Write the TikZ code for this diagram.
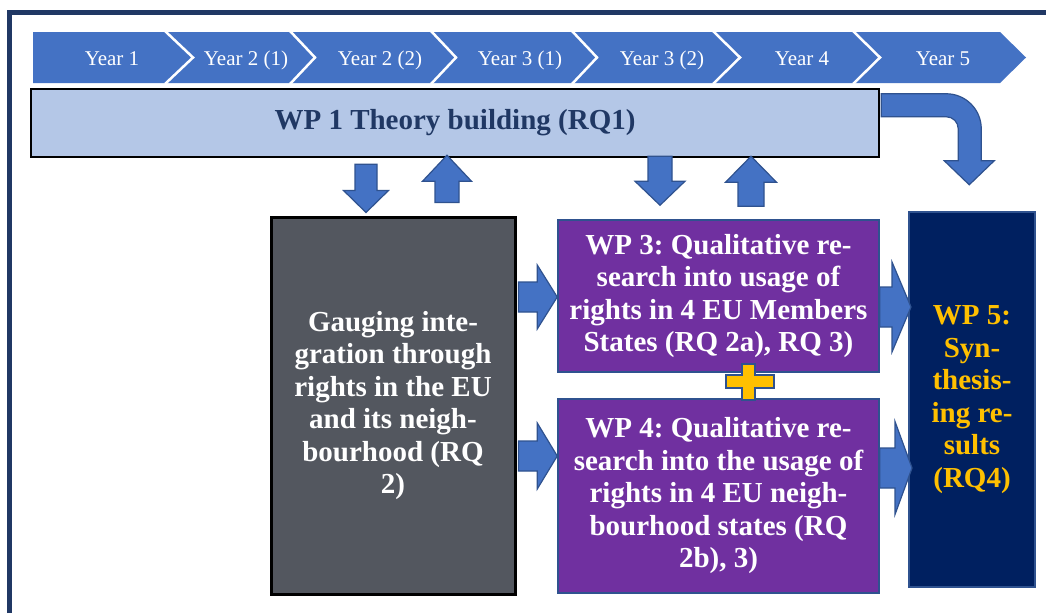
\documentclass[tikz,border=0pt]{standalone}
\usepackage{fontspec}
\setmainfont{Liberation Serif}
\usetikzlibrary{calc}
\frenchspacing
\definecolor{chev}{HTML}{4472C4}
\definecolor{arrowline}{HTML}{2F528F}
\definecolor{frameblue}{HTML}{203864}
\definecolor{wpone}{HTML}{B4C7E7}
\definecolor{grayfill}{HTML}{53575F}
\definecolor{purplefill}{HTML}{7030A0}
\definecolor{navyfill}{HTML}{002060}
\definecolor{gold}{HTML}{FFC000}
\newcommand\blockarrow[5]{% #1 from, #2 to, #3 half shaft, #4 half head, #5 head length
  \coordinate (bah) at ($(#2)!#5!(#1)$);
  \draw[barrow] ($(#1)!#3!90:(#2)$) -- ($(bah)!#3!90:(#2)$) -- ($(bah)!#4!90:(#2)$)
    -- (#2) -- ($(bah)!#4!-90:(#2)$) -- ($(bah)!#3!-90:(#2)$) -- ($(#1)!#3!-90:(#2)$) -- cycle;
}
\tikzset{
  box/.style={rectangle, inner sep=0pt, align=center, font=\fontsize{29}{32.5}\selectfont\bfseries\frenchspacing},
  yearlbl/.style={text=white, font=\fontsize{21}{24}\selectfont, inner sep=0pt, anchor=base},
  barrow/.style={fill=chev, draw=arrowline, line width=1.2pt, line join=miter},
  chevron/.style={fill=chev},
  chevgap/.style={draw=white, line width=2.5pt, line join=miter},
}
\begin{document}
\begin{tikzpicture}[x=1pt,y=-1pt]
\useasboundingbox (0,0) rectangle (1046,613);
\fill[white] (0,0) rectangle (1046,613);
% outer frame
\draw[frameblue, line width=4.5pt, line join=miter] (9.5,613) -- (9.5,12.5) -- (1046,12.5);

% chevrons
\fill[chevron] (33,32) -- (165,32) -- (193,57.5) -- (165,83) -- (33,83) -- cycle;
\fill[chevron] (165,32) -- (290,32) -- (315,57.5) -- (290,83) -- (165,83) -- (193,57.5) -- cycle;
\fill[chevron] (290,32) -- (431,32) -- (456,57.5) -- (431,83) -- (290,83) -- (315,57.5) -- cycle;
\fill[chevron] (431,32) -- (572,32) -- (597,57.5) -- (572,83) -- (431,83) -- (456,57.5) -- cycle;
\fill[chevron] (572,32) -- (713,32) -- (740,57.5) -- (713,83) -- (572,83) -- (597,57.5) -- cycle;
\fill[chevron] (713,32) -- (853,32) -- (880,57.5) -- (853,83) -- (713,83) -- (740,57.5) -- cycle;
\fill[chevron] (853,32) -- (1000,32) -- (1026,57.5) -- (1000,83) -- (853,83) -- (880,57.5) -- cycle;
\foreach \r/\t in {165/193,290/315,431/456,572/597,713/740,853/880}
  \draw[chevgap] (\r,31) -- (\t,57.5) -- (\r,84);
\node[yearlbl] (y1) at (112,65) {Year 1};
\node[yearlbl] (y2) at (246,65) {Year 2 (1)};
\node[yearlbl] (y3) at (380,65) {Year 2 (2)};
\node[yearlbl] (y4) at (520,65) {Year 3 (1)};
\node[yearlbl] (y5) at (662,65) {Year 3 (2)};
\node[yearlbl] (y6) at (802,65) {Year 4};
\node[yearlbl] (y7) at (943,65) {Year 5};

% boxes
\node[box, draw=black, line width=2.5pt, fill=wpone, text=frameblue, minimum width=848pt, minimum height=68pt]
  (wp1) at (455,123) {WP 1 Theory building (RQ1)};
\node[box, draw=black, line width=3pt, fill=grayfill, text=white, minimum width=244pt, minimum height=377pt]
  (gray) at (393,405.5) {Gauging inte-\\gration through\\rights in the EU\\and its neigh-\\bourhood (RQ\\2)};
\node[box, draw=arrowline, line width=1.5pt, fill=purplefill, text=white, minimum width=321pt, minimum height=152pt]
  (wp3) at (718.5,296) {WP 3: Qualitative re-\\search into usage of\\rights in 4 EU Members\\States (RQ 2a), RQ 3)};
\node[box, draw=arrowline, line width=1.5pt, fill=purplefill, text=white, minimum width=321pt, minimum height=194pt]
  (wp4) at (718.5,496) {WP 4: Qualitative re-\\search into the usage of\\rights in 4 EU neigh-\\bourhood states (RQ\\2b), 3)};
\node[box, draw=arrowline, line width=2pt, fill=navyfill, text=gold, minimum width=126pt, minimum height=375pt]
  (wp5) at (972,399.5) {WP 5:\\Syn-\\thesis-\\ing re-\\sults\\(RQ4)};

% plus sign
\draw[fill=gold, draw=arrowline, line width=1.3pt, line join=miter]
  (742,364) -- (755,364) -- (755,375) -- (774,375) -- (774,388) -- (755,388) -- (755,400)
  -- (742,400) -- (742,388) -- (726,388) -- (726,375) -- (742,375) -- cycle;

% vertical block arrows
\blockarrow{$(wp1.south -| 366,0)+(0,6)$}{$(gray.north -| 366,0)+(0,-3)$}{11pt}{22.5pt}{22pt}
\blockarrow{$(gray.north -| 447,0)+(0,-13)$}{$(wp1.south -| 447,0)+(0,-3)$}{12pt}{24.5pt}{26pt}
\blockarrow{$(wp1.south -| 660,0)+(0,-2)$}{$(wp3.north -| 660,0)+(0,-14)$}{12pt}{25pt}{24pt}
\blockarrow{$(wp3.north -| 751,0)+(0,-13)$}{$(wp1.south -| 751,0)+(0,-2)$}{13pt}{25.5pt}{26pt}

% horizontal block arrows
\blockarrow{$(gray.east |- 0,297)+(2,0)$}{wp3.west |- 0,297}{15pt}{32pt}{20pt}
\blockarrow{$(gray.east |- 0,456)+(2,0)$}{wp4.west |- 0,456}{15pt}{33pt}{20pt}
\blockarrow{wp3.east |- 0,307}{$(wp5.west |- 0,307)+(3,0)$}{20pt}{45pt}{19pt}
\blockarrow{wp4.east |- 0,468}{$(wp5.west |- 0,468)+(4,0)$}{20pt}{46.5pt}{17pt}

% curved arrow from WP1 to WP5
\begin{scope}[shift={(wp1.north east)}]
\draw[barrow] (1,6) -- (66,6) .. controls (85.3,6) and (101,21.7) .. (101,41)
  -- (101,73) -- (114,73) -- (89,97) -- (64,73) -- (78,73) -- (78,41)
  .. controls (78,34.4) and (72.6,29) .. (66,29) -- (1,29) -- cycle;
\end{scope}
\end{tikzpicture}
\end{document}
